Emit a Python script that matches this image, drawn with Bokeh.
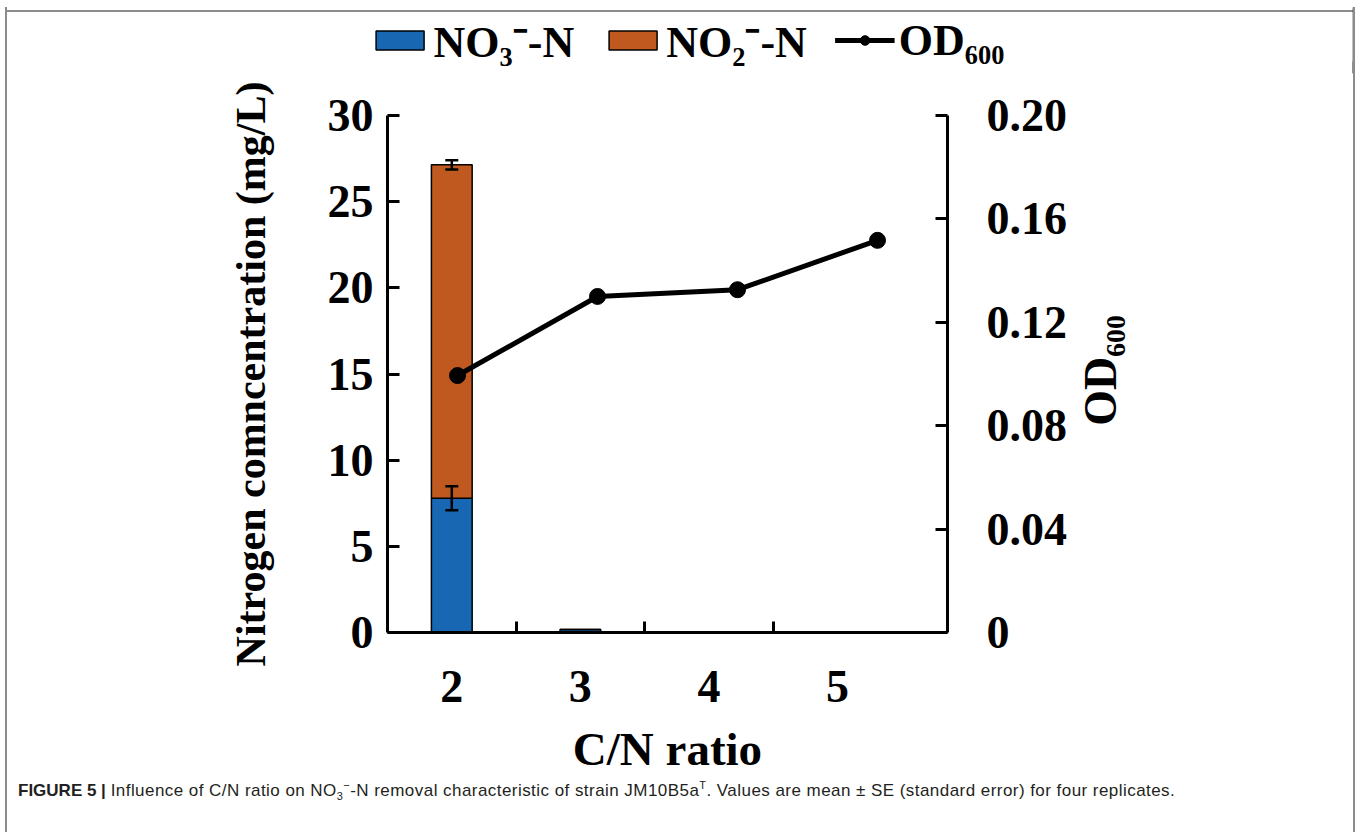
import math
from bokeh.plotting import figure
from bokeh.layouts import column, row
from bokeh.models import (Range1d, LinearAxis, FixedTicker, CustomJSTickFormatter, Whisker,
                          TeeHead, ColumnDataSource, Legend, LegendItem, Div, Label)
from bokeh.embed import file_html
from bokeh.resources import INLINE

# ---------------- data ----------------
cn_ratio = [2, 3, 4, 5]
no3_n = [7.79, 0.18, 0.0, 0.0]          # mg/L
no2_n = [19.35, 0.0, 0.0, 0.0]          # mg/L (stacked on NO3)
no3_se = [0.70, 0.0, 0.0, 0.0]
total_se = [0.27, 0.0, 0.0, 0.0]
od600 = [0.0994, 0.1300, 0.1326, 0.1517]
n_ticks = [0, 5, 10, 15, 20, 25, 30]
od_ticks = [0, 0.04, 0.08, 0.12, 0.16, 0.20]
series_names = ["NO\u2083\u207b-N", "NO\u2082\u207b-N", "OD\u2086\u2080\u2080"]
y_title = "Nitrogen comncentration (mg/L)"
x_title = "C/N ratio"
caption_bold = "FIGURE 5 |"
caption_html = ("Influence of C/N ratio on NO<sub style='font-size:11px'>3</sub>"
                "<sup style='font-size:11px'>\u2212</sup>-N removal characteristic of strain JM10B5a"
                "<sup style='font-size:11px'>T</sup>. Values are mean \u00b1 SE (standard error) "
                "for four replicates.")

# ---------------- layout constants (page px) ----------------
W = 1356
OX, OY, RB = 9, 7, 3               # left / top / right border strips
CW = W - OX - RB                   # content width
WM_PAGE = 1070                     # right edge of the main chart figure on the page
LEG_H, MAIN_H, CAP_H = 80 - OY, 700, 52
FL, FR = 387 - OX, 951 - OX        # frame left/right inside main figure
FT, FB = 115 - 80, 632 - 80        # frame top/bottom inside main figure
WM = WM_PAGE - OX
CAT_PX = 129.5
BLUE = "#1767B3"
ORANGE = "#BF591F"
GRAY = "#8c8c8c"
SERIF = "Liberation Serif"


def clear_fills(fig):
    fig.border_fill_color = None
    fig.background_fill_color = None
    fig.outline_line_color = None


src = ColumnDataSource(dict(x=cn_ratio, no3=no3_n, no2=no2_n))
line_src = ColumnDataSource(dict(x=cn_ratio, y=od600))

# ---------------- legend strip (legend glyphs only; data lies outside its view) ----------------
lf = figure(width=CW, height=LEG_H, output_backend="svg", toolbar_location=None,
            x_range=Range1d(0, 1), y_range=Range1d(0, 1), x_axis_type=None, y_axis_type=None,
            min_border=0, min_border_left=12, min_border_bottom=7)
lf.frame_align = False
clear_fills(lf)
lbars = lf.vbar_stack(["no3", "no2"], x="x", width=0.3, source=src,
                      fill_color=[BLUE, ORANGE], line_color="black", line_width=1.5)
r3 = lf.line("x", "y", source=line_src, line_color="black", line_width=5)
r4 = lf.scatter("x", "y", source=line_src, size=16, fill_color="black", line_color="black")
legend = Legend(items=[LegendItem(label=series_names[0], renderers=[lbars[0]]),
                       LegendItem(label=series_names[1], renderers=[lbars[1]]),
                       LegendItem(label=series_names[2], renderers=[r3, r4])],
                orientation="horizontal", location="center", border_line_color=None,
                background_fill_alpha=0, padding=0, margin=0, spacing=28, label_standoff=4,
                glyph_width=60, glyph_height=24, label_text_font=SERIF,
                label_text_font_style="bold", label_text_font_size="44px",
                label_text_color="black")
lf.add_layout(legend)

# ---------------- main chart ----------------
frame_w = FR - FL
p = figure(width=WM, height=MAIN_H, output_backend="svg", toolbar_location=None,
           x_range=Range1d(1.5, 1.5 + frame_w / CAT_PX), y_range=Range1d(0, 30),
           min_border_left=FL, min_border_right=WM - FR, min_border_top=FT,
           min_border_bottom=MAIN_H - FB)
p.frame_align = False
p.extra_x_ranges = {"line": Range1d(1.5, 5.5)}
p.extra_y_ranges = {"od": Range1d(0, 0.2)}
clear_fills(p)
p.xgrid.visible = False
p.ygrid.visible = False

bars = p.vbar_stack(["no3", "no2"], x="x", width=0.317, source=src,
                    fill_color=[BLUE, ORANGE], line_color="black", line_width=1.5)

tot = [a + b for a, b in zip(no3_n, no2_n)]
err_src = ColumnDataSource(dict(
    x=cn_ratio[:1] * 2,
    lower=[no3_n[0] - no3_se[0], tot[0] - total_se[0]],
    upper=[no3_n[0] + no3_se[0], tot[0] + total_se[0]]))
p.add_layout(Whisker(base="x", lower="lower", upper="upper", source=err_src, level="annotation",
                     line_width=2.5, line_color="black",
                     upper_head=TeeHead(size=13, line_width=2.5, line_color="black"),
                     lower_head=TeeHead(size=13, line_width=2.5, line_color="black")))

lr = p.line("x", "y", source=line_src, x_range_name="line", y_range_name="od",
            line_color="black", line_width=5)
cr = p.scatter("x", "y", source=line_src, x_range_name="line", y_range_name="od",
               size=16, fill_color="black", line_color="black")


def style_axis(ax):
    ax.axis_line_width = 3
    ax.axis_line_color = "black"
    ax.major_tick_line_width = 3
    ax.major_tick_line_color = "black"
    ax.major_tick_in = 12
    ax.major_tick_out = 0
    ax.minor_tick_line_width = 3
    ax.minor_tick_line_color = "black"
    ax.minor_tick_out = 0
    ax.major_label_text_font = SERIF
    ax.major_label_text_font_style = "bold"
    ax.major_label_text_font_size = "46px"
    ax.major_label_text_color = "black"
    ax.axis_label_text_font = SERIF
    ax.axis_label_text_font_style = "bold"
    ax.axis_label_text_color = "black"


xa = p.xaxis[0]
style_axis(xa)
xa.ticker = FixedTicker(ticks=cn_ratio, minor_ticks=[c + 0.5 for c in cn_ratio[:-1]])
xa.major_tick_in = 0
xa.minor_tick_in = 11
xa.major_label_standoff = 38
xa.axis_label = x_title
xa.axis_label_text_font_size = "47px"
xa.axis_label_standoff = 18

ya = p.yaxis[0]
style_axis(ya)
ya.ticker = FixedTicker(ticks=n_ticks)
ya.major_label_standoff = 14
ya.axis_label = y_title
ya.axis_label_text_font_size = "42px"
ya.axis_label_standoff = 51

ra = LinearAxis(y_range_name="od", ticker=FixedTicker(ticks=od_ticks),
                formatter=CustomJSTickFormatter(code="return tick == 0 ? '0' : tick.toFixed(2);"))
style_axis(ra)
ra.major_label_standoff = 39
p.add_layout(ra, "right")

# ---------------- right axis title (own strip, reading bottom-to-top) ----------------
side = figure(width=CW - WM, height=MAIN_H, output_backend="svg", toolbar_location=None,
              x_range=Range1d(0, 1), y_range=Range1d(0, 1), x_axis_type=None, y_axis_type=None,
              min_border=0)
side.frame_align = False
clear_fills(side)
side.add_layout(Label(x=1100 - WM_PAGE, y=MAIN_H - (370 - 80), x_units="screen", y_units="screen",
                      angle=math.pi / 2, text=series_names[2], text_align="center",
                      text_baseline="middle", text_font=SERIF, text_font_style="bold",
                      text_font_size="46px", text_color="black"))

# ---------------- caption ----------------
cap = Div(text=("<div style=\"font-family:'Liberation Sans',Arial,sans-serif;font-size:17px;"
                "color:#231f20;padding-left:9px;margin-top:-2px;white-space:nowrap\">"
                "<b>" + caption_bold + "</b> <span style='letter-spacing:0.45px'>"
                + caption_html + "</span></div>"), width=CW, height=CAP_H, margin=0)

# ---------------- figure border strips ----------------
body_h = LEG_H + MAIN_H + CAP_H
top_b = Div(text=("<div style='margin:0 0 0 7px;width:%dpx;height:2px;background:%s'></div>"
                  % (W - 7 - 1, GRAY)), width=W, height=OY, margin=0)
left_b = Div(text=("<div style='margin-left:5px;width:2px;height:%dpx;background:%s'></div>"
                   % (body_h, GRAY)), width=OX, height=body_h, margin=0)
right_b = Div(text=("<div style='margin-left:0px;width:2px;height:%dpx;background:%s'></div>"
                    % (body_h, GRAY)), width=RB, height=body_h, margin=0)

content = column(lf, row(p, side, spacing=0), cap, spacing=0)
layout = column(top_b, row(left_b, content, right_b, spacing=0), spacing=0)
open("out.html", "w").write(file_html(layout, INLINE))
